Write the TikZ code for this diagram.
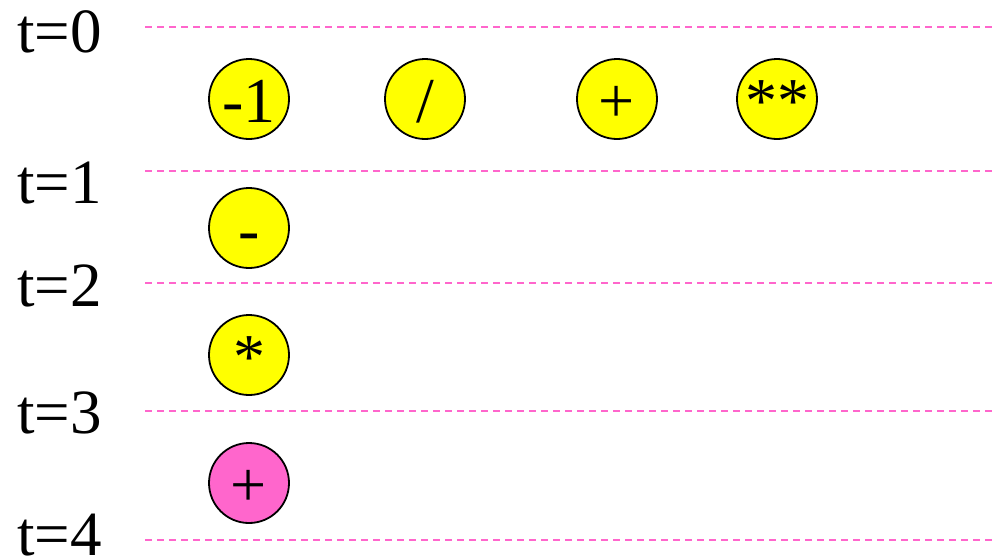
\documentclass[tikz,border=0pt]{standalone}
\usepackage{fontspec}
\setmainfont{Liberation Serif}
\definecolor{opyellow}{HTML}{FFFF00}
\definecolor{oppink}{HTML}{FF66CC}
\begin{document}
\begin{tikzpicture}[x=1pt,y=-1pt,
  op/.style={circle,draw=black,line width=1.8pt,fill=opyellow,minimum size=80pt,inner sep=0pt,
    text height=46pt,text depth=0pt,font=\fontsize{64}{64}\selectfont},
  opfinal/.style={op,fill=oppink},
  tlabel/.style={anchor=base west,inner sep=0pt,font=\fontsize{63}{63}\selectfont},
  guide/.style={draw=oppink,line width=1.4pt,dash pattern=on 7pt off 5pt}]
\useasboundingbox (0,0) rectangle (995,558);
% time guide lines
\foreach \yy in {27,171,283,411,540}
  \draw[guide] (145,\yy) -- (995,\yy);
% time labels
\node[tlabel] (t0) at (17,52) {t=0};
\node[tlabel] (t1) at (17,203) {t=1};
\node[tlabel] (t2) at (17,306) {t=2};
\node[tlabel] (t3) at (17,433) {t=3};
\node[tlabel] (t4) at (17,555) {t=4};
% operation nodes
\node[op] (neg1) at (249,99) {-1};
\node[op] (div) at (425,99) {/};
\node[op] (add) at (617,99) {+};
\node[op] (pow) at (777,99) {**};
\node[op] (sub) at (249,228) {-};
\node[op] (mul) at (249,355) {*};
\node[opfinal] (addf) at (249,483) {+};
\end{tikzpicture}
\end{document}
